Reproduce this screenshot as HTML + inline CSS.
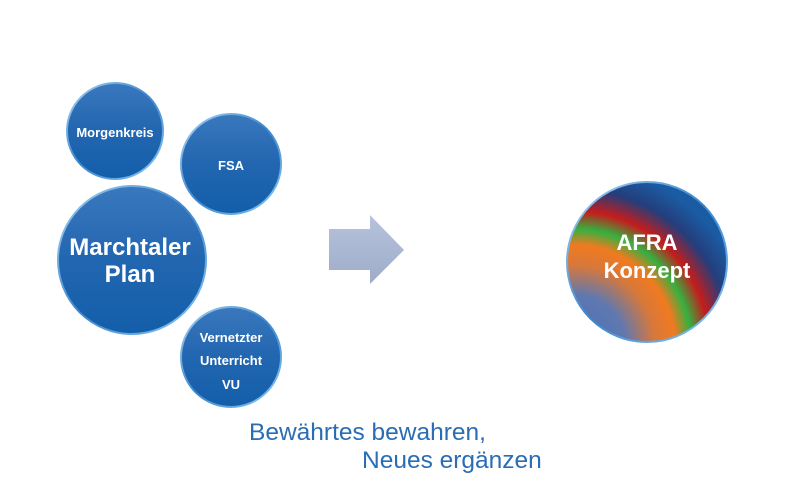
<!DOCTYPE html>
<html><head><meta charset="utf-8"><style>
html,body{margin:0;padding:0;background:#fff;width:810px;height:480px;overflow:hidden}
svg{display:block}
text{font-family:"Liberation Sans",sans-serif;font-weight:bold;fill:#fff;text-anchor:middle}
</style></head><body>
<svg width="810" height="480" viewBox="0 0 810 480">
<defs>
<linearGradient id="blue" x1="0" y1="0" x2="0" y2="1">
<stop offset="0" stop-color="#3a78bd"/><stop offset="0.5" stop-color="#2266b0"/><stop offset="1" stop-color="#135ea9"/>
</linearGradient>
<linearGradient id="rim" x1="0" y1="0" x2="1" y2="1">
<stop offset="0" stop-color="#a8d4f5"/><stop offset="0.5" stop-color="#3b86cc"/><stop offset="1" stop-color="#8cc8f5"/>
</linearGradient>
<radialGradient id="rainbow" gradientUnits="userSpaceOnUse" cx="575" cy="345" r="200">
<stop offset="0" stop-color="#4a70b8"/>
<stop offset="0.25" stop-color="#5f78b0"/>
<stop offset="0.4" stop-color="#d8783a"/>
<stop offset="0.5" stop-color="#f07a20"/>
<stop offset="0.58" stop-color="#36b040"/>
<stop offset="0.67" stop-color="#c41c1c"/>
<stop offset="0.78" stop-color="#243e7c"/>
<stop offset="0.9" stop-color="#1a5ca4"/>
<stop offset="1" stop-color="#1a5ca4"/>
</radialGradient>
<linearGradient id="arrow" x1="0" y1="0" x2="0" y2="1">
<stop offset="0" stop-color="#b7c3dc"/><stop offset="1" stop-color="#9eacc9"/>
</linearGradient>
</defs>
<g stroke="url(#rim)" stroke-width="2">
<circle cx="115" cy="131" r="48" fill="url(#blue)"/>
<circle cx="231" cy="164" r="50" fill="url(#blue)"/>
<circle cx="132" cy="260" r="74" fill="url(#blue)"/>
<circle cx="231" cy="357" r="50" fill="url(#blue)"/>
<circle cx="647" cy="262" r="80" fill="url(#rainbow)"/>
</g>
<text x="115" y="137" font-size="13">Morgenkreis</text>
<text x="231" y="170" font-size="13">FSA</text>
<text x="130" y="255" font-size="24">Marchtaler</text>
<text x="130" y="282" font-size="24">Plan</text>
<text x="231" y="342" font-size="13">Vernetzter</text>
<text x="231" y="365" font-size="13">Unterricht</text>
<text x="231" y="389" font-size="13">VU</text>
<text x="647" y="250" font-size="22">AFRA</text>
<text x="647" y="278" font-size="22">Konzept</text>
<polygon points="329,229 370,229 370,215 404,250 370,284 370,270 329,270" fill="url(#arrow)"/>
<text x="249" y="440" font-size="24.5" style="font-weight:normal;text-anchor:start;fill:#2a6db4">Bewährtes bewahren,</text>
<text x="362" y="468" font-size="24.5" style="font-weight:normal;text-anchor:start;fill:#2a6db4">Neues ergänzen</text>
</svg>
</body></html>
